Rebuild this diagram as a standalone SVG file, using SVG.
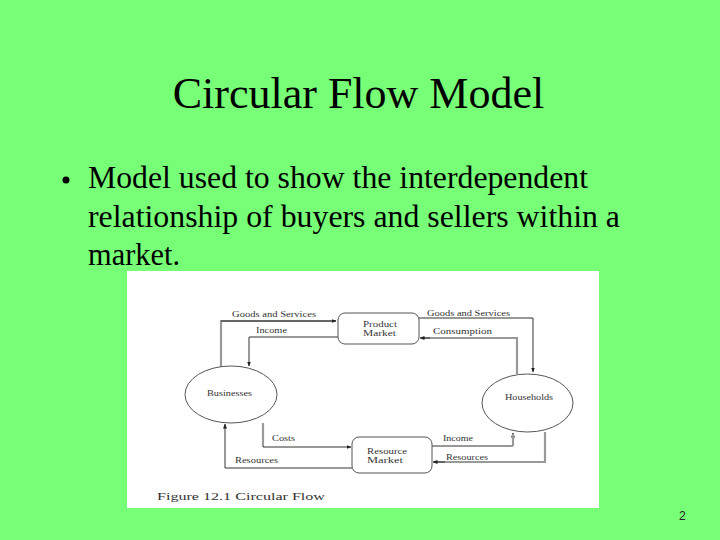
<svg xmlns="http://www.w3.org/2000/svg" width="720" height="540" viewBox="0 0 720 540">
<defs>
<marker id="ah" viewBox="0 0 10 10" refX="9" refY="5" markerWidth="5" markerHeight="5" orient="auto" markerUnits="userSpaceOnUse">
<path d="M0,1 L10,5 L0,9 z" fill="#222"/>
</marker>
</defs>
<style>
.title{font-family:"Liberation Serif","Times New Roman",serif;font-size:44px;fill:#000}
.body{font-family:"Liberation Serif","Times New Roman",serif;font-size:30.5px;fill:#000}
.lbl{font-family:"Liberation Serif","Times New Roman",serif;font-size:7.5px;fill:#333}
.cap{font-family:"Liberation Serif","Times New Roman",serif;font-size:11px;fill:#333}
.node{fill:#fff;stroke:#555;stroke-width:1}
.thin{fill:none;stroke:#333;stroke-width:1}
.thick{fill:none;stroke:#999;stroke-width:2.2}
.num{font-family:"Liberation Sans",Arial,sans-serif;font-size:12px;fill:#222}
</style>
<rect x="0" y="0" width="720" height="540" fill="#77FF77"/>
<text class="title" x="358.5" y="108" text-anchor="middle">Circular Flow Model</text>
<circle cx="66" cy="180" r="3.5" fill="#000"/>
<text class="body" x="88" y="188" textLength="500" lengthAdjust="spacingAndGlyphs">Model used to show the interdependent</text>
<text class="body" x="88" y="227" textLength="532" lengthAdjust="spacingAndGlyphs">relationship of buyers and sellers within a</text>
<text class="body" x="88" y="265" textLength="92" lengthAdjust="spacingAndGlyphs">market.</text>
<rect x="127" y="271" width="472" height="237" fill="#fff"/>
<g id="connectors">
<path class="thick" d="M221,367 V321 H336"/>
<path class="thin" d="M221,321 H336" marker-end="url(#ah)"/>
<path class="thin" d="M338,337 H249 V366" marker-end="url(#ah)"/>
<path class="thin" d="M419,318 H533 V372" marker-end="url(#ah)"/>
<path class="thick" d="M517,374 V338 H422"/>
<path class="thin" d="M430,338 H420" marker-end="url(#ah)"/>
<path class="thick" d="M263,423 V447"/>
<path class="thin" d="M263,447 H351" marker-end="url(#ah)"/>
<path class="thin" d="M352,468 H225 V424" marker-end="url(#ah)"/>
<path class="thin" d="M432,446 H513 V433" marker-end="url(#ah)"/>
<path class="thick" d="M513,446 V434"/>
<path class="thick" d="M545,432 V462 H435"/>
<path class="thin" d="M445,462 H433" marker-end="url(#ah)"/>
<text class="lbl" x="232" y="317" textLength="84" lengthAdjust="spacingAndGlyphs">Goods and Services</text>
<text class="lbl" x="256" y="333" textLength="31" lengthAdjust="spacingAndGlyphs">Income</text>
<text class="lbl" x="427" y="316" textLength="83" lengthAdjust="spacingAndGlyphs">Goods and Services</text>
<text class="lbl" x="433" y="334" textLength="59" lengthAdjust="spacingAndGlyphs">Consumption</text>
<text class="lbl" x="272" y="441" textLength="23" lengthAdjust="spacingAndGlyphs">Costs</text>
<text class="lbl" x="235" y="463" textLength="43" lengthAdjust="spacingAndGlyphs">Resources</text>
<text class="lbl" x="443" y="441" textLength="30" lengthAdjust="spacingAndGlyphs">Income</text>
<text class="lbl" x="446" y="460" textLength="42" lengthAdjust="spacingAndGlyphs">Resources</text>
</g>
<g id="product-market">
<rect class="node" x="338" y="313" width="81" height="31" rx="7"/>
<text class="lbl" x="363" y="327" textLength="34" lengthAdjust="spacingAndGlyphs">Product</text>
<text class="lbl" x="363" y="336" textLength="33" lengthAdjust="spacingAndGlyphs">Market</text>
</g>
<g id="resource-market">
<rect class="node" x="352" y="437" width="80" height="36" rx="7"/>
<text class="lbl" x="367" y="454" textLength="40" lengthAdjust="spacingAndGlyphs">Resource</text>
<text class="lbl" x="367" y="463" textLength="36" lengthAdjust="spacingAndGlyphs">Market</text>
</g>
<g id="businesses">
<ellipse class="node" cx="231" cy="394.5" rx="46" ry="28.5"/>
<text class="lbl" x="207" y="396" textLength="45" lengthAdjust="spacingAndGlyphs">Businesses</text>
</g>
<g id="households">
<ellipse class="node" cx="527.5" cy="403" rx="45.5" ry="29"/>
<text class="lbl" x="505" y="400" textLength="48" lengthAdjust="spacingAndGlyphs">Households</text>
</g>
<text class="cap" x="157" y="500" textLength="168" lengthAdjust="spacingAndGlyphs">Figure 12.1  Circular Flow</text>
<text class="num" x="679" y="520">2</text>
</svg>
